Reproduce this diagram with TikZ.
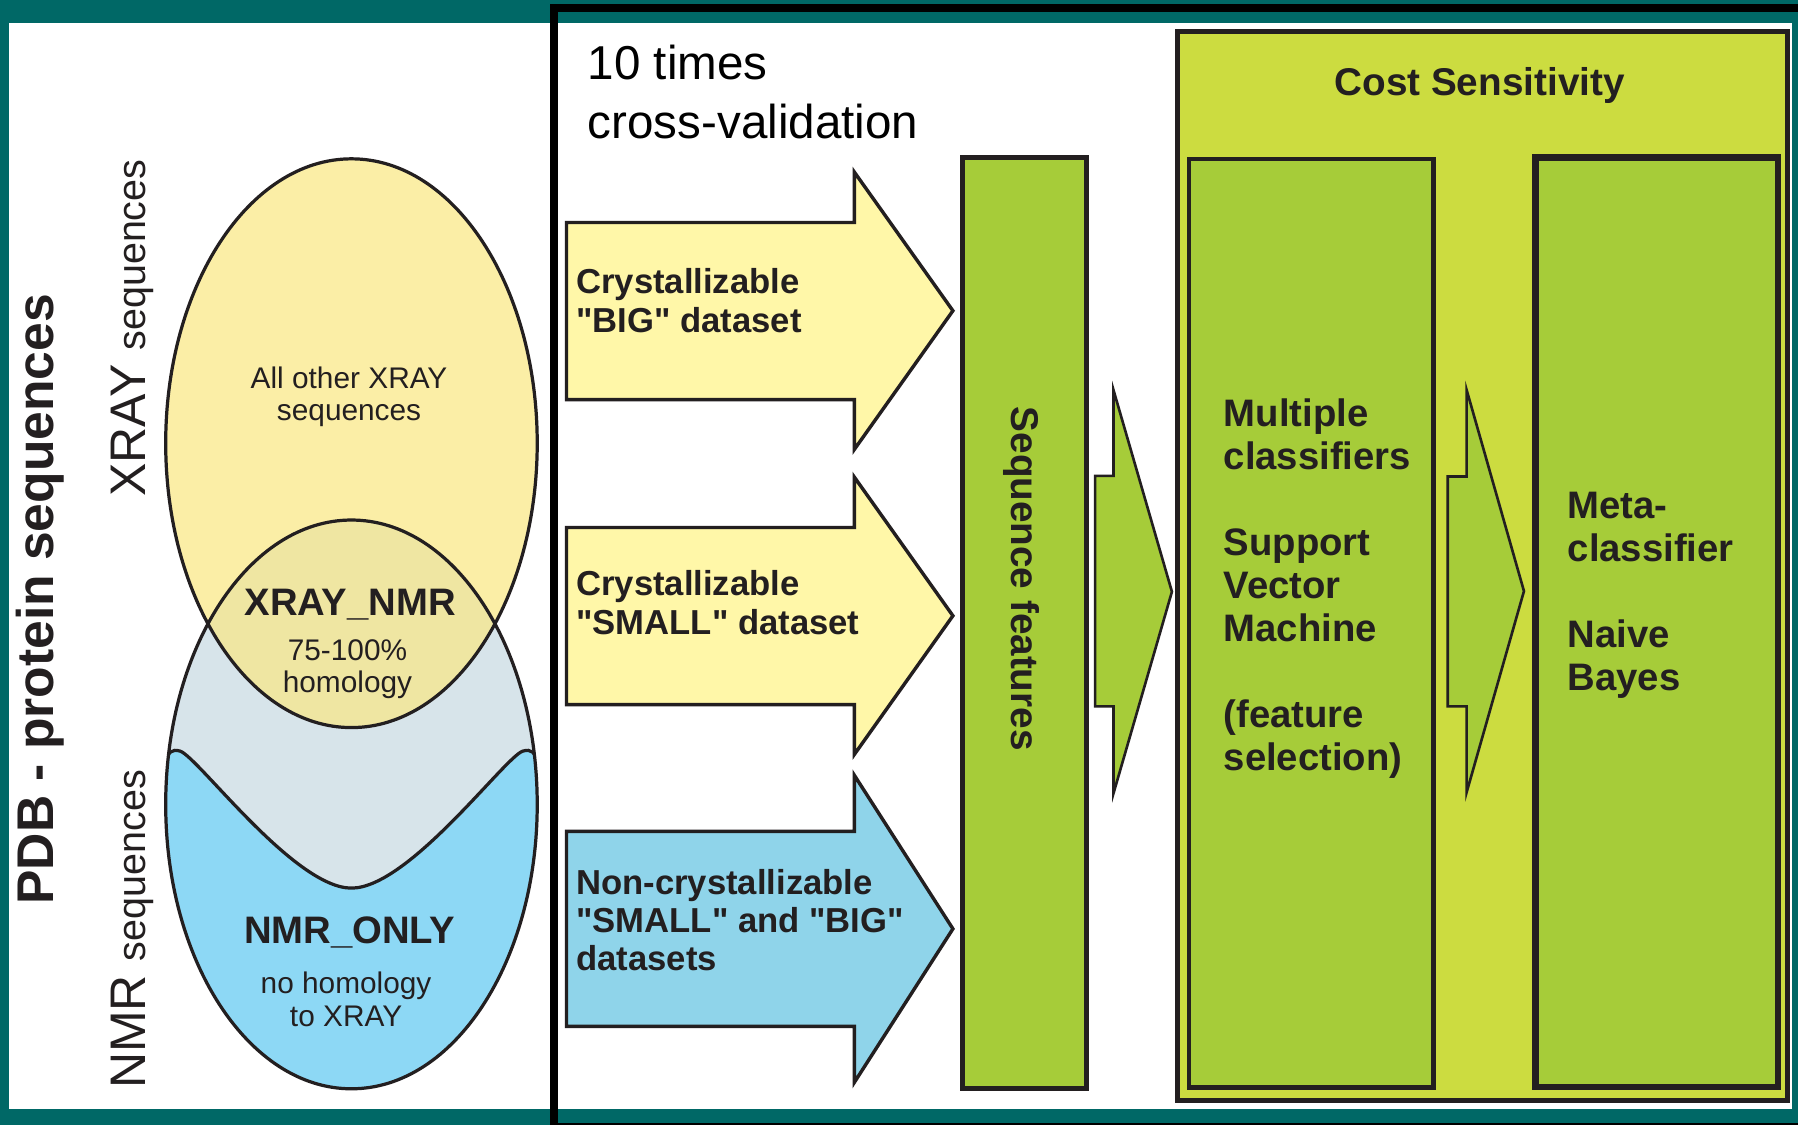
\documentclass[tikz,border=0pt]{standalone}
\usepackage{fontspec}
\setmainfont{Liberation Sans}
\usepackage{tikz}
\usetikzlibrary{shapes, arrows, positioning}
\definecolor{tealbg}{RGB}{0,104,102}
\definecolor{textdark}{RGB}{35,31,32}
\definecolor{xyellow}{RGB}{251,238,166}
\definecolor{lensyellow}{RGB}{239,230,162}
\definecolor{greyblue}{RGB}{215,228,234}
\definecolor{nmrblue}{RGB}{141,216,245}
\definecolor{arrowyellow}{RGB}{255,247,168}
\definecolor{arrowblue}{RGB}{143,212,234}
\definecolor{featgreen}{RGB}{166,204,57}
\definecolor{costlime}{RGB}{204,220,64}
\tikzstyle{ellipseline} = [draw = textdark, line width = 0.8pt]
\tikzstyle{ellipsetext} = [font = \fontsize{7.4}{8.1}\selectfont, text = textdark, align = center, inner sep = 0pt]
\tikzstyle{ellipsetitle} = [font = \bfseries\fontsize{9.5}{11}\selectfont, text = textdark, anchor = base, inner sep = 0pt]
\tikzstyle{sidetitle} = [font = \bfseries\fontsize{12.8}{15}\selectfont, text = textdark, rotate = 90, anchor = base, inner sep = 0pt]
\tikzstyle{sidelabel} = [font = \fontsize{12.4}{15}\selectfont, text = textdark, rotate = 90, anchor = base, inner sep = 0pt]
\tikzstyle{headline} = [font = \fontsize{11.8}{14.5}\selectfont, text = black, align = left, anchor = north west, inner sep = 0pt]
\tikzstyle{arrowtext} = [font = \bfseries\fontsize{8.6}{9.5}\selectfont, text = textdark, align = left, anchor = north west, inner sep = 0pt]
\tikzstyle{boxtext} = [font = \bfseries\fontsize{9.5}{10.7}\selectfont, text = textdark, align = left, anchor = north west, inner sep = 0pt]
\tikzstyle{bigarrow} = [draw = textdark, line width = 0.85pt]
\tikzstyle{smallarrow} = [draw = textdark, fill = featgreen, line width = 0.65pt]
\tikzstyle{greenbox} = [rectangle, draw = textdark, fill = featgreen, inner sep = 0pt]
\tikzstyle{costbox} = [rectangle, draw = textdark, fill = costlime, line width = 1.3pt, inner sep = 0pt]

\begin{document}
\begin{tikzpicture}
			\useasboundingbox (0, 0) rectangle (15.68, -9.81);
			% Background and frame
			\fill [tealbg] (0, 0) rectangle (15.68, -9.81);
			\fill [white] (0.08, -0.20) rectangle (4.80, -9.675);
			\fill [white] (4.87, -0.20) rectangle (15.625, -9.67);
			\draw [line width = 0.07cm] (4.835, -9.81) -- (4.835, -0.07) -- (15.68, -0.07);
			\draw [line width = 0.015cm] (4.835, -9.8025) -- (15.68, -9.8025);
			% Venn diagram
			\fill [xyellow] (3.065, -3.865) ellipse [x radius = 1.62, y radius = 2.48];
			\fill [greyblue] (3.065, -7.015) ellipse [x radius = 1.62, y radius = 2.48];
			\begin{scope}
				\clip (3.065, -7.015) ellipse [x radius = 1.62, y radius = 2.48];
				\path [ellipseline, fill = nmrblue] (1.40, -6.68) -- (1.44, -6.68) .. controls (1.46, -6.55) and (1.50, -6.53) .. (1.57, -6.55) .. controls (1.72, -6.593) and (2.565, -7.745) .. (3.065, -7.745) .. controls (3.565, -7.745) and (4.41, -6.593) .. (4.56, -6.55) .. controls (4.63, -6.53) and (4.67, -6.55) .. (4.69, -6.68) -- (4.75, -6.68) -- (4.75, -9.60) -- (1.40, -9.60) -- cycle;
				\clip (3.065, -3.865) ellipse [x radius = 1.62, y radius = 2.48];
				\fill [lensyellow] (1.40, -1.30) rectangle (4.75, -9.60);
			\end{scope}
			\path [ellipseline] (3.065, -3.865) ellipse [x radius = 1.62, y radius = 2.48];
			\path [ellipseline] (3.065, -7.015) ellipse [x radius = 1.62, y radius = 2.48];
			% Place nodes
			\node [sidetitle] (pdb) at (0.467, -5.226) {PDB - protein sequences};
			\node [sidelabel] (xrayside) at (1.265, -2.862) {XRAY {\fontsize{9.8}{12}\selectfont sequences}};
			\node [sidelabel] (nmrside) at (1.268, -8.106) {NMR {\fontsize{9.8}{12}\selectfont sequences}};
			\node [ellipsetext] (xrayrest) at (3.044, -3.46) {All other XRAY\\sequences};
			\node [ellipsetitle] (xraynmr) at (3.054, -5.37) {XRAY\_NMR};
			\node [ellipsetext] (homology) at (3.03, -5.835) {75-100\%\\homology};
			\node [ellipsetitle] (nmronly) at (3.05, -8.23) {NMR\_ONLY};
			\node [ellipsetext] (nohomology) at (3.018, -8.715) {no homology\\to XRAY};
			\node [headline] (crossval) at (5.12, -0.387) {10 times\\cross-validation};
			% Draw dataset arrows
			\path [bigarrow, fill = arrowyellow] (4.94, -1.94) -- (7.45, -1.94) -- (7.45, -1.50) -- (8.31, -2.71) -- (7.45, -3.92) -- (7.45, -3.485) -- (4.94, -3.485) -- cycle;
			\path [bigarrow, fill = arrowyellow] (4.94, -4.60) -- (7.45, -4.60) -- (7.45, -4.16) -- (8.31, -5.37) -- (7.45, -6.58) -- (7.45, -6.145) -- (4.94, -6.145) -- cycle;
			\path [bigarrow, fill = arrowblue] (4.94, -7.25) -- (7.45, -7.25) -- (7.45, -6.76) -- (8.31, -8.10) -- (7.45, -9.44) -- (7.45, -8.95) -- (4.94, -8.95) -- cycle;
			\node [arrowtext] (bigset) at (5.018, -2.337) {Crystallizable\\\textquotedbl BIG\textquotedbl{} dataset};
			\node [arrowtext] (smallset) at (5.018, -4.971) {Crystallizable\\\textquotedbl SMALL\textquotedbl{} dataset};
			\node [arrowtext] (noncryst) at (5.018, -7.571) {Non-crystallizable\\\textquotedbl SMALL\textquotedbl{} and \textquotedbl BIG\textquotedbl\\datasets};
			% Feature bar and classifier boxes
			\node [greenbox, line width = 1.25pt, minimum width = 1.083cm, minimum height = 8.113cm] (features) at (8.9315, -5.4335) {};
			\node [font = \bfseries\fontsize{9.6}{11}\selectfont, text = textdark, rotate = -90, anchor = base, inner sep = 0pt] (featlabel) at (8.824, -5.047) {Sequence features};
			\path [smallarrow] (9.55, -4.15) -- (9.71, -4.15) -- (9.71, -3.40) -- (10.22, -5.16) -- (9.71, -6.92) -- (9.71, -6.16) -- (9.55, -6.16) -- cycle;
			\node [costbox, minimum width = 5.317cm, minimum height = 9.327cm] (cost) at (12.9265, -4.9365) {};
			\node [font = \bfseries\fontsize{9.6}{11}\selectfont, text = textdark, anchor = base, inner sep = 0pt] (costlabel) at (12.903, -0.834) {Cost Sensitivity};
			\node [greenbox, line width = 1.15pt, minimum width = 2.13cm, minimum height = 8.098cm] (multi) at (11.435, -5.434) {};
			\node [greenbox, line width = 1.6pt, minimum width = 2.113cm, minimum height = 8.103cm] (meta) at (14.4465, -5.4265) {};
			\path [smallarrow] (12.625, -4.155) -- (12.79, -4.155) -- (12.79, -3.40) -- (13.29, -5.155) -- (12.79, -6.91) -- (12.79, -6.16) -- (12.625, -6.16) -- cycle;
			\node [boxtext] (svm) at (10.665, -3.466) {Multiple\\classifiers\\[10.7pt]Support\\Vector\\Machine\\[10.7pt](feature\\selection)};
			\node [boxtext] (bayes) at (13.665, -4.283) {Meta-\\classifier\\[10.7pt]Naive\\Bayes};
		\end{tikzpicture}
\end{document}
